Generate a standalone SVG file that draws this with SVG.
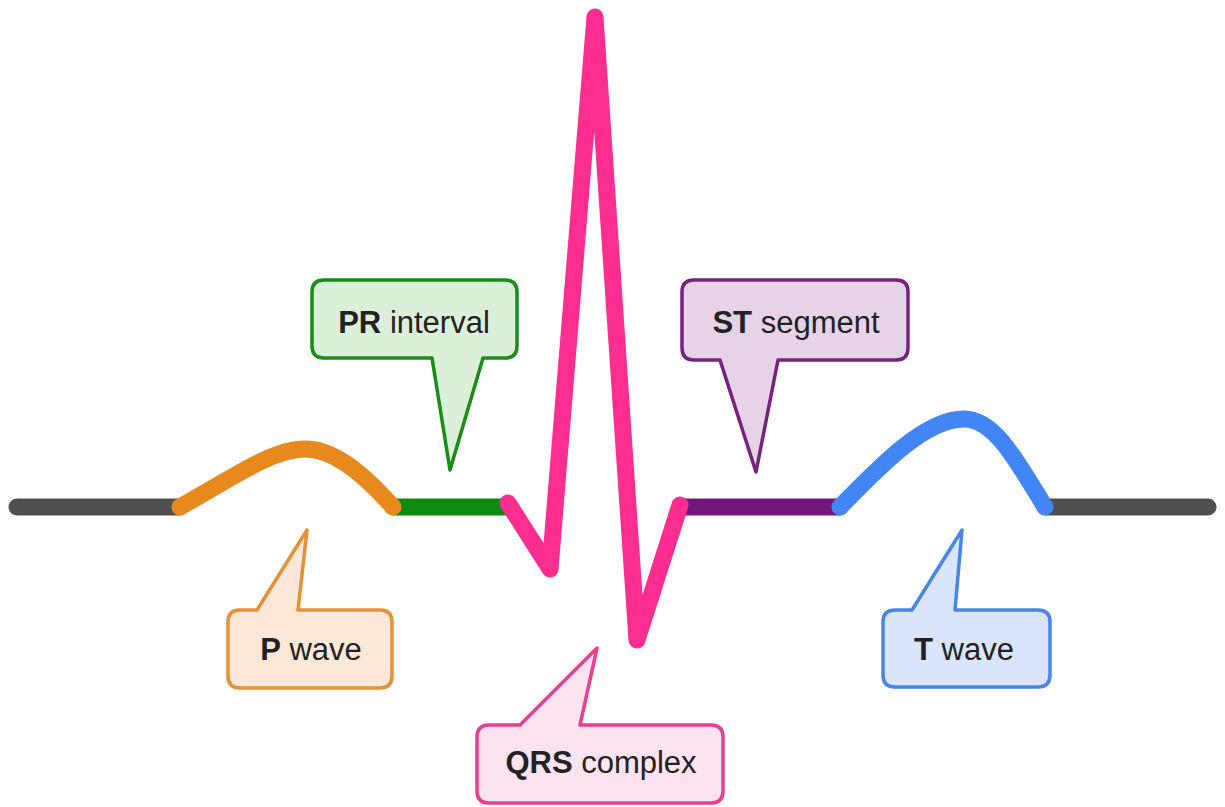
<svg xmlns="http://www.w3.org/2000/svg" width="1225" height="807" viewBox="0 0 1225 807">
<style>
.w{fill:none;stroke-width:17;stroke-linecap:round;stroke-linejoin:round}
.c{stroke-width:3.5;stroke-linejoin:round}
.t{font-family:"Liberation Sans",Arial,sans-serif;font-size:31px;fill:#222;text-anchor:middle}
.b{font-weight:bold}
</style>
<rect width="1225" height="807" fill="#fff"/>
<g id="connectors">
<path class="w" d="M17,507 H180" stroke="#505050"/>
<path class="w" d="M1045,507 H1208" stroke="#505050"/>
<path class="w" d="M393,507 H505" stroke="#0e8a0e"/>
<path class="w" d="M680,507 H840" stroke="#74167a"/>
<path class="w" d="M180,507 C232,478 272,449 305,449 C332,449 360,470 393,507" stroke="#e8891e"/>
<path class="w" d="M508,503 L550,569 L595,17 L637,640 L680,505" stroke="#fd2e8f"/>
<path class="w" d="M840,507 C880,466 925,419 964,419 C992,419 1012,452 1045,507" stroke="#4285f4"/>
</g>
<g id="pr-interval">
<path class="c" fill="#dcefd8" stroke="#1a8c1a" d="M324,280 H505 Q517,280 517,292 V346 Q517,358 505,358 H483 L450,470 L432,358 H324 Q312,358 312,346 V292 Q312,280 324,280 Z"/>
<text class="t" x="414" y="333"><tspan class="b">PR</tspan> interval</text>
</g>
<g id="st-segment">
<path class="c" fill="#e6d3e8" stroke="#76237e" d="M694,280 H896 Q908,280 908,292 V348 Q908,360 896,360 H778 L756,472 L720,360 H694 Q682,360 682,348 V292 Q682,280 694,280 Z"/>
<text class="t" x="796" y="333"><tspan class="b">ST</tspan> segment</text>
</g>
<g id="p-wave">
<path class="c" fill="#fde8d8" stroke="#e69138" d="M240,610 H257 L307,530 L298,610 H380 Q392,610 392,622 V676 Q392,688 380,688 H240 Q228,688 228,676 V622 Q228,610 240,610 Z"/>
<text class="t" x="311" y="660"><tspan class="b">P</tspan> wave</text>
</g>
<g id="qrs-complex">
<path class="c" fill="#fde3ef" stroke="#e8408f" d="M489,725 H520 L597,648 L580,725 H711 Q723,725 723,737 V791 Q723,803 711,803 H489 Q477,803 477,791 V737 Q477,725 489,725 Z"/>
<text class="t" x="601" y="773"><tspan class="b">QRS</tspan> complex</text>
</g>
<g id="t-wave">
<path class="c" fill="#dae4fb" stroke="#4a86e8" d="M895,610 H912 L962,530 L955,610 H1038 Q1050,610 1050,622 V675 Q1050,687 1038,687 H895 Q883,687 883,675 V622 Q883,610 895,610 Z"/>
<text class="t" x="964" y="660"><tspan class="b">T</tspan> wave</text>
</g>
</svg>
